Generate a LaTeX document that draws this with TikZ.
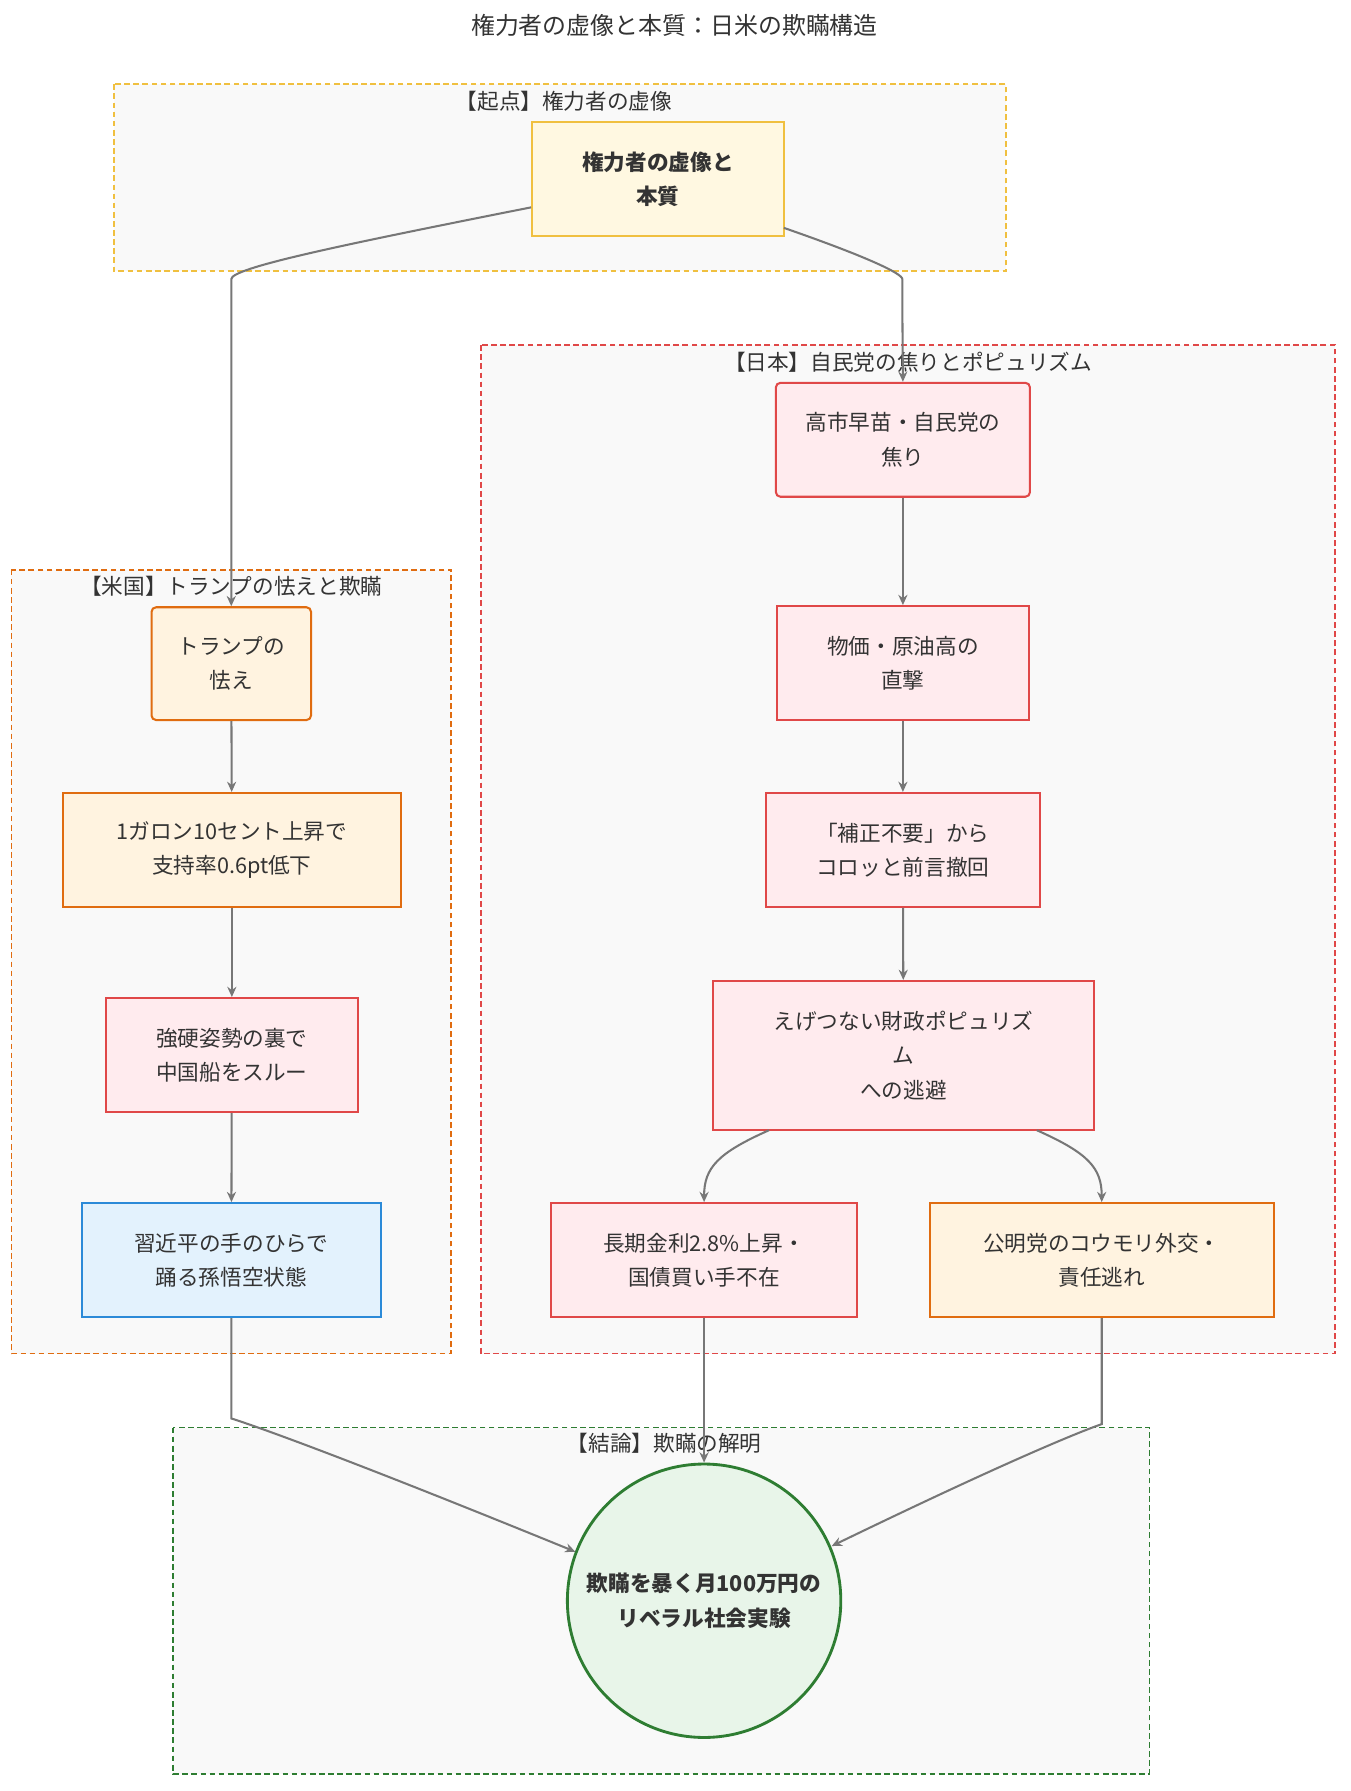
\documentclass[tikz,border=0pt]{standalone}
\usepackage{fontspec}
\setmainfont{Noto Sans CJK JP}
\usetikzlibrary{arrows.meta}
\definecolor{clfill}{HTML}{F9F9F9}
\definecolor{ylw}{HTML}{F0C040}
\definecolor{ylwf}{HTML}{FFF8E1}
\definecolor{redc}{HTML}{E04848}
\definecolor{redf}{HTML}{FFEBEE}
\definecolor{org}{HTML}{E06C10}
\definecolor{orgf}{HTML}{FFF3E0}
\definecolor{blu}{HTML}{2B8AD8}
\definecolor{bluf}{HTML}{E3F2FD}
\definecolor{grn}{HTML}{2E7D32}
\definecolor{grnf}{HTML}{E8F5E9}
\definecolor{edge}{HTML}{777777}
\definecolor{txt}{HTML}{333333}
\begin{document}
\begin{tikzpicture}[x=1pt,y=-1pt,
  every node/.style={text=txt,font=\fontsize{19}{30}\selectfont,align=center},
  cl/.style={draw,dashed,line width=1.5pt,fill=clfill,dash pattern=on 5pt off 3pt},
  bx/.style={draw,line width=1.8pt,inner sep=0},
  rbx/.style={bx,rounded corners=4pt},
  ar/.style={draw=edge,line width=1.8pt,-{Stealth[length=9pt,width=8pt]},rounded corners=30pt},
  lab/.style={font=\fontsize{19}{24}\selectfont}]
\useasboundingbox (0,0) rectangle (1185,1572);
\fill[white] (0,0) rectangle (1185,1572);
\node[font=\fontsize{21}{26}\selectfont] (title) at (592,22) {権力者の虚像と本質：日米の欺瞞構造};
% clusters
\draw[cl,draw=ylw] (100,74) rectangle (883,238);
\node[lab] (c1) at (495,89) {【起点】権力者の虚像};
\draw[cl,draw=redc] (422,303) rectangle (1172,1188);
\node[lab] (c2) at (797,318) {【日本】自民党の焦りとポピュリズム};
\draw[cl,draw=org] (10,500) rectangle (396,1188);
\node[lab] (c3) at (203,515) {【米国】トランプの怯えと欺瞞};
\draw[cl,draw=grn] (152,1253) rectangle (1009,1557);
\node[lab] (c4) at (583,1267) {【結論】欺瞞の解明};
% nodes
\node[bx,draw=ylw,fill=ylwf,minimum width=221pt,minimum height=100pt,font=\fontsize{19}{30}\selectfont\bfseries] (A) at (577.5,157) {権力者の虚像と\\本質};
\node[rbx,draw=redc,fill=redf,minimum width=223pt,minimum height=100pt] (J1) at (792.5,386) {高市早苗・自民党の\\焦り};
\node[bx,draw=redc,fill=redf,minimum width=221pt,minimum height=100pt] (J2) at (792.5,582) {物価・原油高の\\直撃};
\node[bx,draw=redc,fill=redf,minimum width=241pt,minimum height=100pt] (J3) at (792.5,746) {「補正不要」から\\コロッと前言撤回};
\node[bx,draw=redc,fill=redf,minimum width=334pt,minimum height=131pt] (J4) at (793,926.5) {えげつない財政ポピュリズ\\ム\\への逃避};
\node[bx,draw=redc,fill=redf,minimum width=268pt,minimum height=100pt] (J5) at (618,1106) {長期金利2.8\%上昇・\\国債買い手不在};
\node[bx,draw=org,fill=orgf,minimum width=302pt,minimum height=100pt] (J6) at (967,1106) {公明党のコウモリ外交・\\責任逃れ};
\node[rbx,draw=org,fill=orgf,minimum width=140pt,minimum height=99pt] (U1) at (203,582.5) {トランプの\\怯え};
\node[bx,draw=org,fill=orgf,minimum width=297pt,minimum height=100pt] (U2) at (203.5,746) {1ガロン10セント上昇で\\支持率0.6pt低下};
\node[bx,draw=redc,fill=redf,minimum width=221pt,minimum height=100pt] (U3) at (203.5,926) {強硬姿勢の裏で\\中国船をスルー};
\node[bx,draw=blu,fill=bluf,minimum width=262pt,minimum height=100pt] (U4) at (203,1106) {習近平の手のひらで\\踊る孫悟空状態};
\node[circle,draw=grn,line width=2.5pt,fill=grnf,minimum size=240pt,inner sep=0,font=\fontsize{19}{30}\selectfont\bfseries] (C) at (618,1405) {欺瞞を暴く月100万円の\\リベラル社会実験};
% edges
\coordinate (a1) at (203,265);
\coordinate (a2) at (792,265);
\draw[ar] (A.west |- 0,182) .. controls (300,215) and (203,235) .. (203,275) -- (U1.north);
\draw[ar] (688,200) .. controls (760,225) and (792,240) .. (792,275) -- (J1.north);
\draw[ar] (J1) -- (J2);
\draw[ar] (J2) -- (J3);
\draw[ar] (J3) -- (J4);
\draw[ar] (675,992) .. controls (630,1012) and (618,1025) .. (J5.north);
\draw[ar] (910,992) .. controls (955,1012) and (967,1025) .. (J6.north);
\draw[ar] (U1) -- (U2);
\draw[ar] (U2) -- (U3);
\draw[ar] (U3) -- (U4);
\draw[ar] (U4.south) -- (203,1215) .. controls (203,1245) and (260,1262) .. (505,1362);
\draw[ar] (J5.south) -- (C.north);
\draw[ar] (J6.south) -- (967,1220) .. controls (967,1250) and (920,1265) .. (730,1357);
\end{tikzpicture}
\end{document}
